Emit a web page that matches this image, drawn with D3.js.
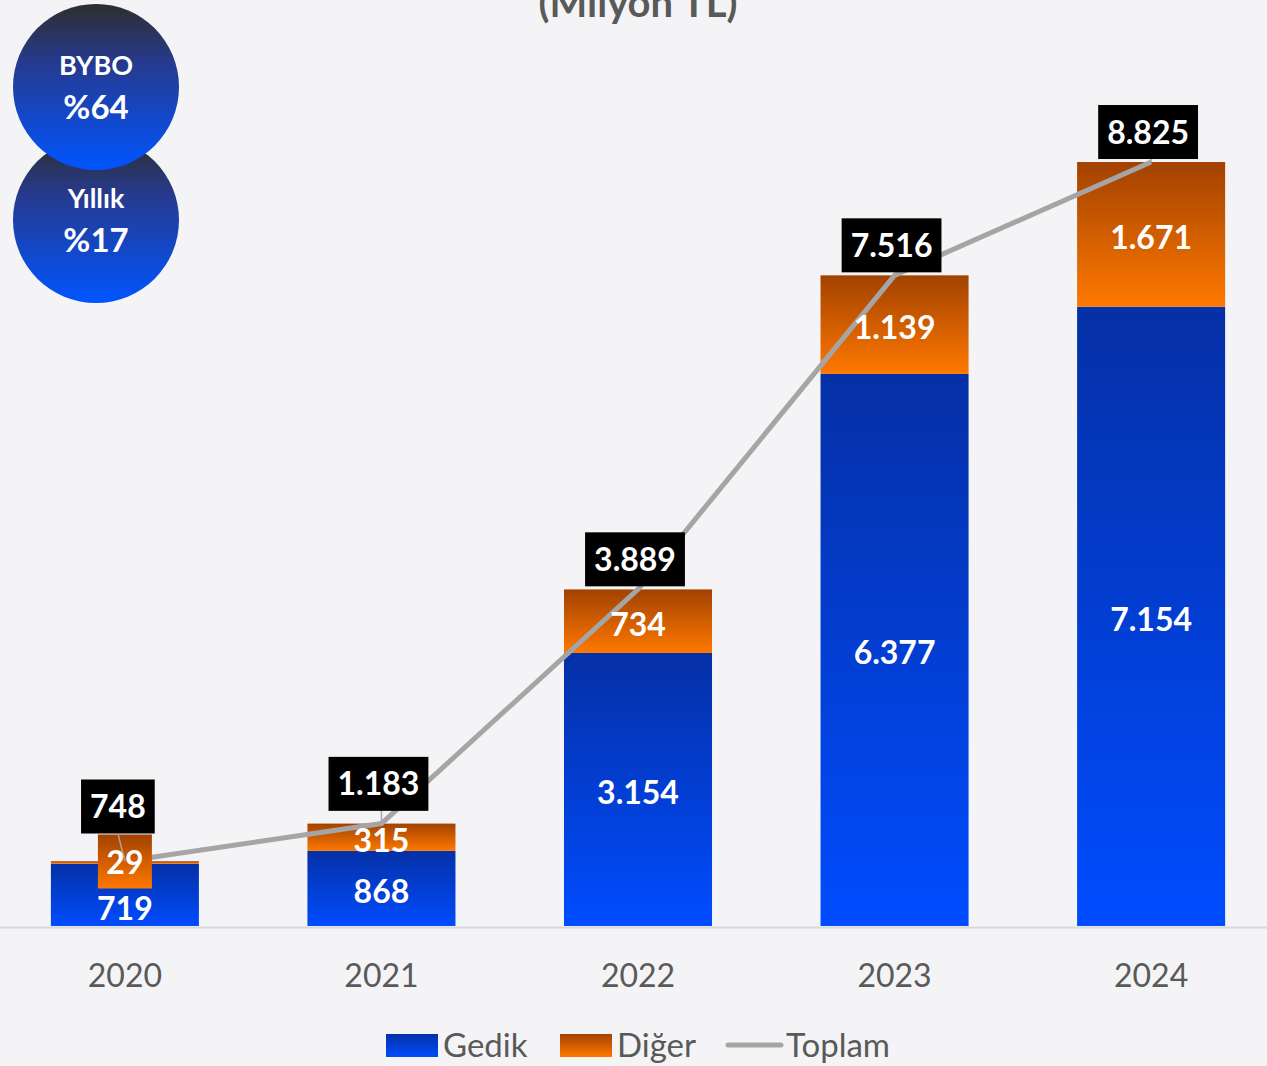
<!DOCTYPE html>
<html>
<head>
<meta charset="utf-8">
<script src="https://cdn.jsdelivr.net/npm/d3@7"></script>
<style>
  html, body { margin: 0; padding: 0; background: #f4f4f6; }
  svg { display: block; font-family: Lato, "Open Sans", sans-serif; }
</style>
</head>
<body>
<div id="chart"></div>
<script>
var years = ["2020", "2021", "2022", "2023", "2024"];
var gedik = [719, 868, 3154, 6377, 7154];
var diger = [29, 315, 734, 1139, 1671];
var toplam = [748, 1183, 3889, 7516, 8825];
var legendNames = ["Gedik", "Diğer", "Toplam"];
var badges = [["BYBO", "%64"], ["Yıllık", "%17"]];

(function() {
  var w = 1267,
      h = 1066,
      base = 926;

  var fmt = function(v) { return d3.format(",")(v).replace(/,/g, "."); };

  var svg = d3.select("#chart")
    .append("svg")
    .attr("width", w)
    .attr("height", h);

  svg.append("rect").attr("width", w).attr("height", h).attr("fill", "#f4f4f6");

  var defs = svg.append("defs");
  function grad(id, stops) {
    var g = defs.append("linearGradient").attr("id", id)
      .attr("x1", 0).attr("y1", 0).attr("x2", 0).attr("y2", 1);
    stops.forEach(function(s) {
      g.append("stop").attr("offset", s[0]).attr("stop-color", s[1]);
    });
  }
  grad("gBlue", [[0, "#0530a6"], [1, "#004cff"]]);
  grad("gOrange", [[0, "#a24200"], [1, "#ff7800"]]);
  grad("gBadge", [[0, "#2e2e2e"], [0.35, "#263a8e"], [1, "#0055ff"]]);

  var x = d3.scaleBand().domain(years).range([-3, 1279]).paddingInner(0.423).paddingOuter(0.21);
  var y = d3.scaleLinear().domain([0, 10000]).range([base, base - 865.7]);

  // title, cut off at the top like the original
  svg.append("text")
    .attr("x", 638).attr("y", 17)
    .attr("text-anchor", "middle")
    .attr("font-size", 40).attr("font-weight", "bold")
    .attr("fill", "#595959")
    .text("(Milyon TL)");

  // axis
  svg.append("line")
    .attr("x1", 0).attr("x2", w)
    .attr("y1", base + 1.5).attr("y2", base + 1.5)
    .attr("stroke", "#d9d9d9").attr("stroke-width", 2);

  var xAxis = svg.append("g")
    .attr("transform", "translate(0," + base + ")")
    .call(d3.axisBottom(x).tickSize(0).tickPadding(38));
  xAxis.select(".domain").remove();
  xAxis.selectAll("text")
    .attr("font-size", 32).attr("fill", "#595959")
    .attr("font-family", "Lato, 'Open Sans', sans-serif");

  var rows = years.map(function(yr, i) {
    return { year: yr, g: gedik[i], d: diger[i], t: toplam[i] };
  });

  var bars = svg.append("g");
  bars.selectAll(".gedik")
    .data(rows).enter().append("rect")
    .attr("class", "gedik")
    .attr("x", function(d) { return x(d.year); })
    .attr("width", x.bandwidth())
    .attr("y", function(d) { return y(d.g); })
    .attr("height", function(d) { return y(0) - y(d.g); })
    .attr("fill", "url(#gBlue)");

  bars.selectAll(".diger")
    .data(rows).enter().append("rect")
    .attr("class", "diger")
    .attr("x", function(d) { return x(d.year); })
    .attr("width", x.bandwidth())
    .attr("y", function(d) { return y(d.g + d.d); })
    .attr("height", function(d) { return y(d.g) - y(d.g + d.d); })
    .attr("fill", "url(#gOrange)");

  var cx = function(d) { return x(d.year) + x.bandwidth() / 2; };

  // gedik labels (short bars push the label down)
  svg.selectAll(".glab")
    .data(rows).enter().append("text")
    .attr("x", cx)
    .attr("y", function(d) {
      var hgt = y(0) - y(d.g);
      return hgt < 70 ? base - 18 : (y(d.g) + y(0)) / 2 + 3;
    })
    .attr("dy", "0.36em")
    .attr("text-anchor", "middle")
    .attr("font-size", 32).attr("font-weight", "bold").attr("fill", "#fff")
    .text(function(d) { return fmt(d.g); });

  // total line
  var line = d3.line().x(cx).y(function(d) { return y(d.t); });
  svg.append("path")
    .datum(rows)
    .attr("d", line)
    .attr("fill", "none")
    .attr("stroke", "#a5a5a5")
    .attr("stroke-width", 5);

  // very small diger segments get their own box
  var small = function(d) { return y(d.g) - y(d.g + d.d) < 15; };
  svg.selectAll(".dbox")
    .data(rows.filter(small)).enter().append("rect")
    .attr("x", function(d) { return cx(d) - 27; })
    .attr("y", function(d) { return (y(d.g) + y(d.g + d.d)) / 2 - 28; })
    .attr("width", 54).attr("height", 54)
    .attr("fill", "url(#gOrange)");

  // total label boxes
  var boxBottom = function(d) {
    if (small(d)) return (y(d.g) + y(d.g + d.d)) / 2 - 29;
    return Math.min(y(d.t) - 3, y(d.g) - 40);
  };

  svg.selectAll(".leader")
    .data(rows).enter().append("line")
    .attr("x1", function(d) { return cx(d) - (small(d) ? 7 : 0); })
    .attr("x2", cx)
    .attr("y1", boxBottom)
    .attr("y2", function(d) { return y(d.t); })
    .attr("stroke", "#a5a5a5").attr("stroke-width", 1.5);

  svg.selectAll(".dlab")
    .data(rows).enter().append("text")
    .attr("x", cx)
    .attr("y", function(d) { return (y(d.g) + y(d.g + d.d)) / 2 + (small(d) ? 0 : 3); })
    .attr("dy", "0.36em")
    .attr("text-anchor", "middle")
    .attr("font-size", 32).attr("font-weight", "bold").attr("fill", "#fff")
    .text(function(d) { return fmt(d.d); });

  var tl = svg.selectAll(".tlab")
    .data(rows).enter().append("g");
  tl.append("rect").attr("fill", "#000");
  tl.append("text")
    .attr("x", function(d) { return cx(d) - (small(d) ? 7 : 3); })
    .attr("y", function(d) { return boxBottom(d) - 27; })
    .attr("dy", "0.36em")
    .attr("text-anchor", "middle")
    .attr("font-size", 32).attr("font-weight", "bold").attr("fill", "#fff")
    .text(function(d) { return fmt(d.t); });
  tl.each(function(d) {
    var g = d3.select(this);
    var tx = +g.select("text").attr("x");
    var tw = g.select("text").node().getComputedTextLength() + 18;
    g.select("rect")
      .attr("x", tx - tw / 2)
      .attr("y", boxBottom(d) - 54)
      .attr("width", tw).attr("height", 54);
  });

  // badges
  var bg = svg.selectAll(".badge")
    .data(badges.slice().reverse()).enter().append("g")
    .attr("transform", function(d, i) { return "translate(96," + (i === 0 ? 220 : 87) + ")"; });
  bg.append("circle").attr("r", 83).attr("fill", "url(#gBadge)");
  bg.append("text")
    .attr("y", -22).attr("dy", "0.36em")
    .attr("text-anchor", "middle")
    .attr("font-size", 27).attr("font-weight", "bold").attr("fill", "#fff")
    .text(function(d) { return d[0]; });
  bg.append("text")
    .attr("y", 20).attr("dy", "0.36em")
    .attr("text-anchor", "middle")
    .attr("font-size", 33).attr("font-weight", "bold").attr("fill", "#fff")
    .text(function(d) { return d[1]; });

  // legend
  var leg = svg.append("g").attr("font-size", 33).attr("fill", "#595959");
  leg.append("rect").attr("x", 386).attr("y", 1034).attr("width", 52).attr("height", 23).attr("fill", "url(#gBlue)");
  leg.append("text").attr("x", 443).attr("y", 1045).attr("dy", "0.36em").text(legendNames[0]);
  leg.append("rect").attr("x", 560).attr("y", 1034).attr("width", 52).attr("height", 23).attr("fill", "url(#gOrange)");
  leg.append("text").attr("x", 617).attr("y", 1045).attr("dy", "0.36em").text(legendNames[1]);
  leg.append("line").attr("x1", 728).attr("x2", 781).attr("y1", 1045).attr("y2", 1045)
    .attr("stroke", "#a5a5a5").attr("stroke-width", 5).attr("stroke-linecap", "round");
  leg.append("text").attr("x", 786).attr("y", 1045).attr("dy", "0.36em").text(legendNames[2]);
})();
</script>
</body>
</html>
